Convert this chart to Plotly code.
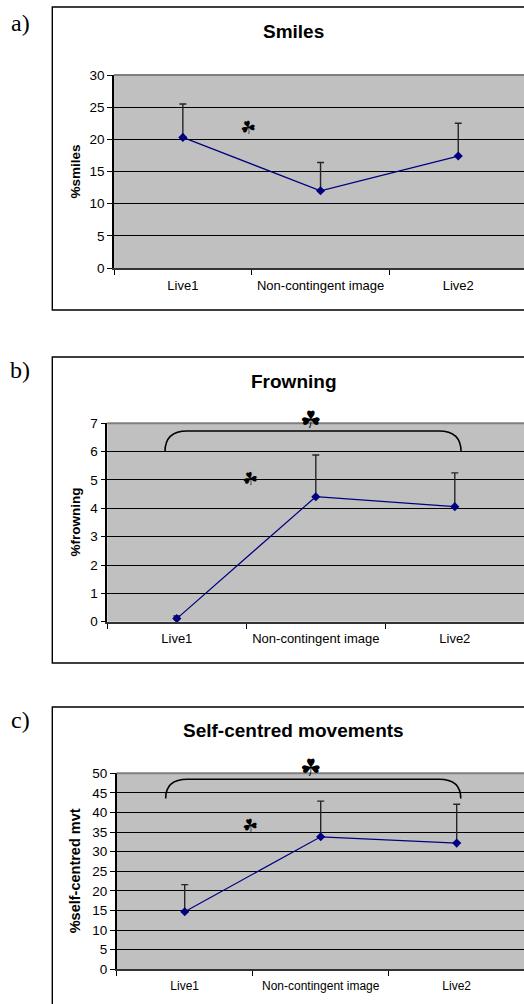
import plotly.graph_objects as go

# Conditions shared by the three panels
conditions = ["Live1", "Non-contingent image", "Live2"]

# Mean percentages and upper standard-error half-widths
smiles_mean = [20.3, 12.0, 17.4]
smiles_err = [5.2, 4.4, 5.1]

frowning_mean = [0.11, 4.41, 4.06]
frowning_err = [0.09, 1.47, 1.19]

selfcentred_mean = [14.7, 33.8, 32.2]
selfcentred_err = [6.9, 9.1, 9.9]

W, H = 524, 1004
FONT = "Liberation Sans"
SERIF = "Liberation Serif"
STAR = "\u2618"


def px(x):
    return x / W


def py(y):
    return 1 - y / H


fig = go.Figure()

panels = [
    dict(name="a)", title="Smiles", ytitle="%smiles", mean=smiles_mean, err=smiles_err,
         box=(7, 310), plot_left=114, plot_top=75, plot_bottom=268, cat_w=137.7,
         yrange=30, dtick=5, label_y=23, title_y=32, xlab_size=13, ytitle_size=13.5,
         small_star=(0.47, 21.9), bracket=None),
    dict(name="b)", title="Frowning", ytitle="%frowning", mean=frowning_mean, err=frowning_err,
         box=(357, 663), plot_left=107.3, plot_top=423.3, plot_bottom=621.7, cat_w=139,
         yrange=7, dtick=1, label_y=370, title_y=381, xlab_size=13, ytitle_size=13.5,
         small_star=(0.53, 5.06), bracket=(-0.085, 2.045, 6.0, 6.73, 0.965, 420)),
    dict(name="c)", title="Self-centred movements", ytitle="%self-centred mvt",
         mean=selfcentred_mean, err=selfcentred_err,
         box=(707, 1012), plot_left=116.7, plot_top=773.3, plot_bottom=969.3, cat_w=136,
         yrange=50, dtick=5, label_y=720, title_y=730, xlab_size=12, ytitle_size=14.5,
         small_star=(0.48, 36.8), bracket=(-0.14, 2.03, 43.6, 48.5, 0.93, 768)),
]

shapes = []
annotations = []


def centred(**kw):
    kw.setdefault("showarrow", False)
    kw.setdefault("xanchor", "center")
    kw.setdefault("yanchor", "middle")
    return kw


for i, p in enumerate(panels, start=1):
    xa = "x" if i == 1 else f"x{i}"
    ya = "y" if i == 1 else f"y{i}"
    xkey = "xaxis" if i == 1 else f"xaxis{i}"
    ykey = "yaxis" if i == 1 else f"yaxis{i}"

    fig.add_trace(go.Scatter(
        x=conditions, y=p["mean"], xaxis=xa, yaxis=ya,
        mode="lines+markers",
        line=dict(color="#000080", width=1.2),
        marker=dict(symbol="diamond", size=7, color="#000080"),
        error_y=dict(type="data", symmetric=False, array=p["err"],
                     arrayminus=[0] * len(p["err"]),
                     color="#262626", thickness=1.4, width=3.5),
        showlegend=False, cliponaxis=False,
    ))

    dom_w = W - p["plot_left"]
    fig.layout[xkey] = dict(
        domain=[px(p["plot_left"]), 1.0],
        anchor=ya, type="category", automargin=False,
        range=[-0.5, -0.5 + dom_w / p["cat_w"]],
        tickson="boundaries", ticks="outside", ticklen=5, tickcolor="black",
        showline=True, linecolor="#333333", linewidth=2,
        showgrid=False, zeroline=False,
        tickfont=dict(family=FONT, size=p["xlab_size"], color="black"),
        ticklabelstandoff=4,
    )
    fig.layout[ykey] = dict(
        domain=[py(p["plot_bottom"]), py(p["plot_top"])],
        anchor=xa, range=[0, p["yrange"]], dtick=p["dtick"], automargin=False,
        ticks="outside", ticklen=5, tickcolor="black",
        showline=True, linecolor="black", linewidth=1.5,
        showgrid=True, gridcolor="black", gridwidth=1,
        zeroline=False,
        tickfont=dict(family=FONT, size=13.5, color="black"),
    )

    # outer frame of the panel
    shapes.append(dict(type="rect", xref="paper", yref="paper",
                       x0=px(52.3), x1=1.05, y0=py(p["box"][1]), y1=py(p["box"][0]),
                       line=dict(color="black", width=1.4), fillcolor="rgba(0,0,0,0)",
                       layer="below"))
    # grey top edge of the plotting area
    shapes.append(dict(type="line", xref="paper", yref="paper",
                       x0=px(p["plot_left"]), x1=1.0,
                       y0=py(p["plot_top"]), y1=py(p["plot_top"]),
                       line=dict(color="#7f7f7f", width=2), layer="above"))

    annotations.append(centred(text=p["name"], xref="paper", yref="paper",
                               x=px(20), y=py(p["label_y"]),
                               font=dict(family=SERIF, size=24, color="black")))
    annotations.append(centred(text=f"<b>{p['title']}</b>", xref="paper", yref="paper",
                               x=px(293), y=py(p["title_y"]),
                               font=dict(family=FONT, size=19, color="black")))
    annotations.append(centred(text=f"<b>{p['ytitle']}</b>", xref="paper", yref="paper",
                               x=px(75), y=py((p["plot_top"] + p["plot_bottom"]) / 2),
                               textangle=-90,
                               font=dict(family=FONT, size=p["ytitle_size"], color="black")))
    sx, sy = p["small_star"]
    annotations.append(centred(text=STAR, xref=xa, yref=ya, x=sx, y=sy, textangle=-15,
                               font=dict(family="DejaVu Sans", size=18, color="black")))

    if p["bracket"]:
        x0, x1, yb, yt, star_x, star_px = p["bracket"]
        rx = 0.16
        path = (f"M {x0},{yb} Q {x0},{yt} {x0 + rx},{yt} "
                f"L {x1 - rx},{yt} Q {x1},{yt} {x1},{yb}")
        shapes.append(dict(type="path", xref=xa, yref=ya, path=path,
                           line=dict(color="black", width=1.6), layer="above"))
        annotations.append(centred(text=STAR, xref=xa, yref="paper",
                                   x=star_x, y=py(star_px),
                                   font=dict(family="DejaVu Sans", size=24, color="black")))

fig.update_layout(
    width=W, height=H,
    margin=dict(l=0, r=0, t=0, b=0, autoexpand=False),
    paper_bgcolor="white", plot_bgcolor="#c0c0c0",
    shapes=shapes, annotations=annotations,
    showlegend=False,
)

fig.write_html("out.html")
